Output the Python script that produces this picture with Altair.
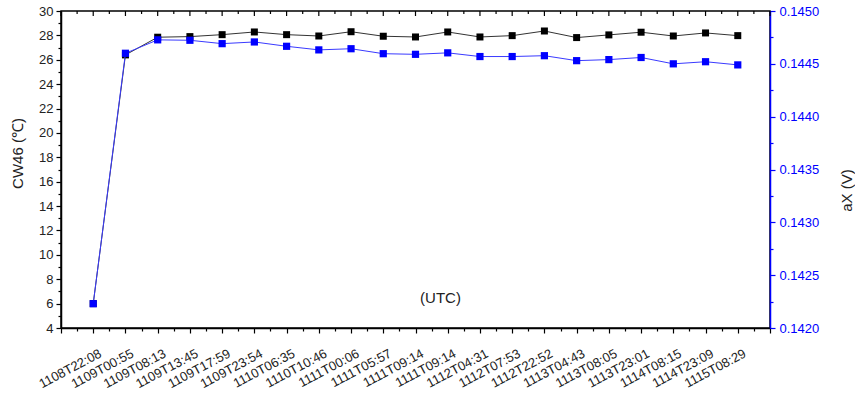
import json
import altair as alt
import pandas as pd

labels = ["1108T22:08", "1109T00:55", "1109T08:13", "1109T13:45", "1109T17:59",
          "1109T23:54", "1110T06:35", "1110T10:46", "1111T00:06", "1111T05:57",
          "1111T09:14", "1111T09:14", "1112T04:31", "1112T07:53", "1112T22:52",
          "1113T04:43", "1113T08:05", "1113T23:01", "1114T08:15", "1114T23:09",
          "1115T08:29"]
cw46 = [6.0, 26.4, 27.85, 27.9, 28.06, 28.28, 28.06, 27.95, 28.3, 27.93,
        27.87, 28.28, 27.87, 27.98, 28.36, 27.82, 28.04, 28.26, 27.95, 28.2, 27.98]
ax = [0.14223, 0.14460, 0.144727, 0.144723, 0.144691, 0.144707, 0.144666,
      0.144632, 0.144643, 0.144596, 0.144590, 0.144604, 0.144569, 0.144569,
      0.144577, 0.144530, 0.144540, 0.144560, 0.144500, 0.144520, 0.144490]

FONT = "Liberation Sans"
BLUE = "#0000ff"

df = pd.DataFrame({"idx": list(range(len(labels))), "label": labels,
                   "cw46": cw46, "ax": ax})

x_ticks = [-1 + 0.5 * i for i in range(45)]
tick_df = pd.DataFrame({"idx": x_ticks})

x_scale = alt.Scale(domain=[-1, 21], nice=False, zero=False)
xaxis = alt.Axis(
    values=x_ticks,
    labelExpr=f"{json.dumps(labels)}[datum.value] || ''",
    labelAngle=332, labelAlign="right", labelBaseline="top",
    labelPadding=14, labelOffset=4, labelFont=FONT, labelFontSize=13,
    labelColor="#222222", labelOverlap=False, labelBound=False, labelFlush=False,
    grid=False, domainColor="black", domainWidth=1.5,
    tickColor="black", tickWidth=1.2,
    tickSize={"condition": {"test": "datum.value % 1 === 0", "value": 5}, "value": 3},
    title="(UTC)", titleFont=FONT, titleFontSize=15, titleFontWeight="normal",
    titleColor="#222222", titleX=379, titleY=-31, titleAlign="center",
    titleBaseline="middle", titleAnchor="start",
)
X = alt.X("idx:Q", scale=x_scale, axis=xaxis)

left_axis = alt.Axis(
    values=list(range(4, 31)),
    labelExpr="datum.value % 2 === 0 ? datum.label : ''",
    labelFont=FONT, labelFontSize=13, labelColor="#222222", labelPadding=3,
    labelOverlap=False, labelFlush=False,
    grid=False, domainColor="black", domainWidth=1.5, tickColor="black", tickWidth=1.2,
    tickSize={"condition": {"test": "datum.value % 2 === 0", "value": 5}, "value": 3},
    title="CW46 (\u2103)", titleFont=FONT, titleFontSize=15, titleFontWeight="normal",
    titleColor="#222222", titleAngle=270, titleX=-44, titleY=142,
    titleAlign="center", titleBaseline="middle",
)
right_vals = [round(0.142 + 0.00025 * i, 5) for i in range(13)]
right_axis = alt.Axis(
    orient="right", values=right_vals, format=".4f",
    labelExpr="round(datum.value*4000) % 2 === 0 ? datum.label : ''",
    labelFont=FONT, labelFontSize=13, labelColor=BLUE, labelPadding=4,
    labelOverlap=False, labelFlush=False,
    grid=False, domainColor=BLUE, domainWidth=1.5, tickColor=BLUE, tickWidth=1.2,
    tickSize={"condition": {"test": "round(datum.value*4000) % 2 === 0", "value": 5}, "value": 3},
    title="aX  (V)", titleFont=FONT, titleFontSize=15, titleFontWeight="normal",
    titleColor="#222222", titleAngle=270, titleX=76, titleY=179,
    titleAlign="center", titleBaseline="middle",
)

base = alt.Chart(df)
y_left = alt.Y("cw46:Q", scale=alt.Scale(domain=[4, 30], nice=False, zero=False), axis=left_axis)
y_right = alt.Y("ax:Q", scale=alt.Scale(domain=[0.142, 0.145], nice=False, zero=False), axis=right_axis)

black = alt.layer(
    base.mark_line(color="#333333", strokeWidth=1).encode(x=X, y=y_left),
    base.mark_point(shape="square", filled=True, size=49, color="black", opacity=1).encode(x=X, y=y_left),
)
blue = alt.layer(
    base.mark_line(color="#3a3aff", strokeWidth=1).encode(x=X, y=y_right),
    base.mark_point(shape="square", filled=True, size=52, color=BLUE, opacity=1).encode(x=X, y=y_right),
)

top_major = alt.Chart(tick_df).transform_filter("datum.idx % 1 === 0").mark_rule(
    color="black", strokeWidth=1.2).encode(x=X, y=alt.value(0), y2=alt.value(5))
top_minor = alt.Chart(tick_df).transform_filter("datum.idx % 1 !== 0").mark_rule(
    color="black", strokeWidth=1.2).encode(x=X, y=alt.value(0), y2=alt.value(3))

chart = alt.layer(black, blue, top_major, top_minor).resolve_scale(
    y="independent"
).properties(
    width=709, height=317, autosize="none",
    padding={"left": 61, "top": 11, "right": 85, "bottom": 66},
    background="white",
).configure_view(stroke="black", strokeWidth=1.5)

chart.save("out.html", embed_options={"renderer": "svg", "actions": False})
